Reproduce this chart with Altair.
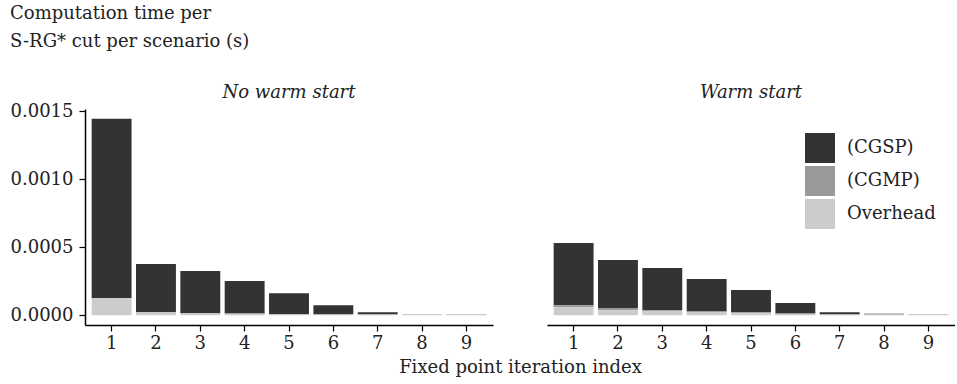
import altair as alt
import pandas as pd

iterations = [1, 2, 3, 4, 5, 6, 7, 8, 9]
panels = ["No warm start", "Warm start"]
components = ["(CGSP)", "(CGMP)", "Overhead"]

nowarm_cgsp = [0.001320, 0.000354, 0.000311, 0.000239, 0.000155, 0.000068, 0.000015, 0.0000005, 0.0000003]
nowarm_cgmp = [0.000003, 0.000002, 0.000002, 0.000002, 0.000002, 0.000002, 0.000003, 0.000003, 0.000002]
nowarm_overhead = [0.000123, 0.000020, 0.000012, 0.000010, 0.000005, 0.000004, 0.000004, 0.000004, 0.000004]

warm_cgsp = [0.000457, 0.000354, 0.000310, 0.000238, 0.000164, 0.000077, 0.000016, 0.000004, 0.000001]
warm_cgmp = [0.000015, 0.000015, 0.000010, 0.000008, 0.000006, 0.000004, 0.000002, 0.000002, 0.000002]
warm_overhead = [0.000059, 0.000037, 0.000027, 0.000020, 0.000015, 0.000008, 0.000004, 0.000004, 0.000004]

y_ticks = [0.0, 0.0005, 0.0010, 0.0015]
colors = ["#333333", "#999999", "#cccccc"]

rows = []
series = {
    "No warm start": [nowarm_cgsp, nowarm_cgmp, nowarm_overhead],
    "Warm start": [warm_cgsp, warm_cgmp, warm_overhead],
}
for panel in panels:
    for ci, comp in enumerate(components):
        for it, v in zip(iterations, series[panel][ci]):
            rows.append({"panel": panel, "iter": str(it), "component": comp,
                         "value": v, "stackorder": 2 - ci})
df = pd.DataFrame(rows)

FONT = "DejaVu Serif"
FS = 18

base = alt.Chart(df).mark_bar().encode(
    x=alt.X("iter:N", sort=[str(i) for i in iterations],
            scale=alt.Scale(paddingInner=0.1, paddingOuter=0.15),
            axis=alt.Axis(title=None, labelAngle=0,
                          domainColor="black", domainWidth=1.5, tickColor="black",
                          tickWidth=1.2, tickSize=6, labelColor="#222222",
                          labelFontSize=FS, labelFont=FONT, labelPadding=3)),
    y=alt.Y("value:Q", stack="zero",
            scale=alt.Scale(domain=[-0.0000723, 0.001518], nice=False, zero=False),
            axis=alt.Axis(title=None, values=y_ticks, format=".4f", grid=False,
                          domainColor="black", domainWidth=1.5, tickColor="black",
                          tickWidth=1.2, tickSize=6, labelColor="#222222",
                          labelFontSize=FS, labelFont=FONT, labelPadding=6)),
    color=alt.Color("component:N", sort=components,
                    scale=alt.Scale(domain=components, range=colors),
                    legend=alt.Legend(title=None, orient="none", legendX=720, legendY=24,
                                      symbolType="square", symbolSize=900,
                                      symbolStrokeWidth=0, labelFontSize=FS,
                                      labelFont=FONT, labelColor="#222222",
                                      rowPadding=3, labelOffset=12)),
    order=alt.Order("stackorder:Q", sort="ascending"),
).properties(width=408, height=216)

faceted = base.facet(
    column=alt.Column("panel:N", sort=panels,
                      header=alt.Header(title=None, labelFontStyle="italic",
                                        labelFont=FONT, labelFontSize=FS,
                                        labelColor="#222222", labelPadding=7)),
    spacing=54,
).properties(
    title=alt.TitleParams(text=["Computation time per", "S-RG* cut per scenario (s)"],
                          anchor="start", font=FONT, fontSize=FS, fontWeight="normal",
                          color="#222222", lineHeight=28, offset=33),
)

chart = alt.vconcat(faceted).properties(
    title=alt.TitleParams(text="Fixed point iteration index", orient="bottom",
                          anchor="middle", font=FONT, fontSize=FS, fontWeight="normal",
                          color="#222222", offset=7, dx=38),
    padding={"left": 10, "top": 5, "right": 0, "bottom": 0},
).configure_view(stroke=None)

chart.save("out.html", embed_options={"renderer": "svg", "actions": False})
